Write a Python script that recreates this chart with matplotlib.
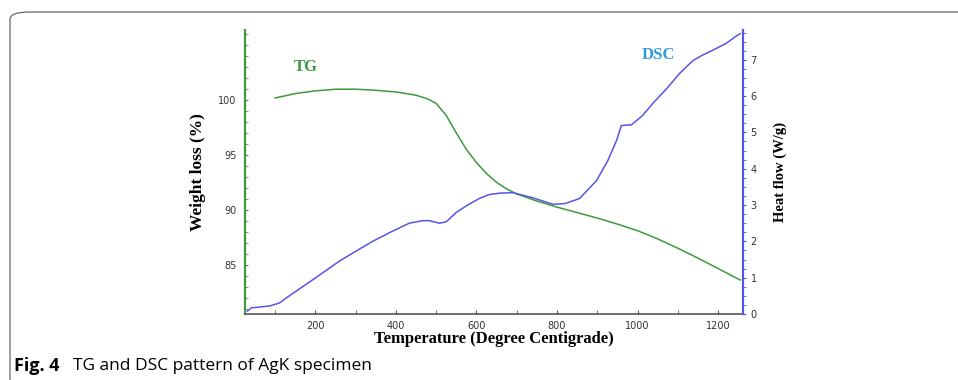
import numpy as np
import matplotlib.pyplot as plt
from matplotlib.patches import FancyBboxPatch
from matplotlib.ticker import MultipleLocator, FixedLocator

# TG curve: temperature (deg C) and weight (%)
tg_temp = [100, 150, 200, 250, 300, 350, 400, 450, 480, 500, 525, 550, 575, 600,
           625, 650, 675, 700, 750, 800, 850, 900, 950, 1000, 1050, 1100, 1150,
           1200, 1255]
tg_weight = [100.2, 100.6, 100.85, 101.0, 101.0, 100.9, 100.75, 100.45, 100.1, 99.7,
             98.6, 97.0, 95.5, 94.3, 93.3, 92.5, 91.9, 91.45, 90.8, 90.25, 89.75, 89.25,
             88.7, 88.1, 87.35, 86.5, 85.6, 84.65, 83.6]

# DSC curve: temperature (deg C) and heat flow (W/g)
dsc_temp = [31, 41, 86, 110, 135, 197, 260, 302, 342, 384, 433, 466, 483, 508, 525,
            550, 575, 607, 632, 660, 690, 740, 790, 820, 856, 898, 926, 948, 960, 972,
            985, 998, 1013, 1038, 1072, 1105, 1138, 1160, 1188, 1220, 1246, 1255]
dsc_flow = [0.08, 0.17, 0.22, 0.3, 0.5, 0.97, 1.46, 1.74, 2.0, 2.24, 2.5, 2.57, 2.57,
            2.5, 2.54, 2.8, 2.98, 3.18, 3.29, 3.33, 3.34, 3.2, 3.02, 3.04, 3.18, 3.67,
            4.22, 4.78, 5.19, 5.2, 5.21, 5.33, 5.47, 5.8, 6.2, 6.63, 6.98, 7.12, 7.27,
            7.45, 7.66, 7.72]

weight_ticks = [85, 90, 95, 100]

green = '#3d9a3d'
blue = '#5555e8'
serif = 'Liberation Serif'

fig = plt.figure(figsize=(9.58, 3.80), dpi=100)

# frame round the figure panel
frame = FancyBboxPatch((10 / 958, -0.2), 1.2, 368 / 380 + 0.2,
                       boxstyle='round,pad=0,rounding_size=0.02',
                       transform=fig.transFigure, fill=False,
                       edgecolor='#666666', linewidth=0.9, clip_on=False)
fig.patches.append(frame)

ax1 = fig.add_axes([245 / 958, 1 - 314 / 380, 498 / 958, 284 / 380])
ax2 = ax1.twinx()

ax1.plot(tg_temp, tg_weight, color=green, lw=1.1)
ax2.plot(dsc_temp, dsc_flow, color=blue, lw=1.1)

ax1.set_xlim(25, 1262)
ax1.set_ylim(80.5, 106.4)
ax2.set_ylim(0, 7.82)

for a in (ax1, ax2):
    a.spines['top'].set_visible(False)
ax1.spines['right'].set_visible(False)
ax2.spines['left'].set_visible(False)
ax2.spines['bottom'].set_visible(False)
ax1.spines['left'].set_color(green)
ax1.spines['left'].set_linewidth(1.6)
ax2.spines['right'].set_color(blue)
ax2.spines['right'].set_linewidth(1.6)
ax1.spines['bottom'].set_color('#555555')
ax1.spines['bottom'].set_linewidth(1.2)

ax1.xaxis.set_major_locator(MultipleLocator(200))
ax1.xaxis.set_minor_locator(MultipleLocator(100))
ax1.yaxis.set_major_locator(FixedLocator(weight_ticks))
ax1.yaxis.set_minor_locator(MultipleLocator(1))
ax2.yaxis.set_major_locator(MultipleLocator(1))
ax2.yaxis.set_minor_locator(MultipleLocator(0.25))

ax1.tick_params(axis='x', which='both', direction='in', length=3, color='#555555',
                labelsize=7, labelcolor='#333333', pad=5)
ax1.tick_params(axis='y', which='both', direction='in', length=2.5, color=green,
                labelsize=7, labelcolor='#333333', pad=6)
ax2.tick_params(axis='y', which='both', direction='out', length=2.5, color=blue,
                labelsize=7, labelcolor='#333333', pad=3)

ax1.set_xlabel('Temperature (Degree Centigrade)', family=serif, fontweight='bold',
               fontsize=12, labelpad=0)
ax1.set_ylabel('Weight loss (%)', family=serif, fontweight='bold', fontsize=12.5,
               labelpad=9)
ax2.set_ylabel('Heat flow (W/g)', family=serif, fontweight='bold', fontsize=10.5,
               labelpad=12)

ax1.text(175, 103.0, 'TG', color=green, family=serif, fontweight='bold',
         fontsize=12, ha='center', va='center')
ax2.text(1052, 7.13, 'DSC', color='#2b9be0', family=serif, fontweight='bold',
         fontsize=12, ha='center', va='center')

fig.text(14 / 958, 1 - 366 / 380, 'Fig. 4', family='Open Sans', fontweight='bold',
         fontsize=13, va='center', ha='left')
fig.text(73 / 958, 1 - 366 / 380, 'TG and DSC pattern of AgK specimen',
         family='Open Sans', fontsize=12.5, va='center', ha='left')

fig.savefig('out.png', dpi=100)
